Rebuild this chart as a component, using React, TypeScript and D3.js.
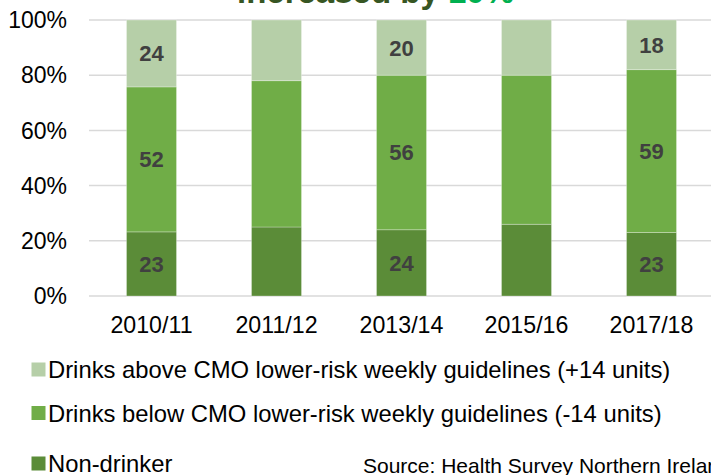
import React from "react";
import * as d3 from "d3";

const years = ["2010/11", "2011/12", "2013/14", "2015/16", "2017/18"];
const nonDrinker = [23, 25, 24, 26, 23];
const belowGuidelines = [52, 53, 56, 54, 59];
const aboveGuidelines = [24, 22, 20, 20, 18];
const labelledYears = ["2010/11", "2013/14", "2017/18"];
const yTicks = [0, 0.2, 0.4, 0.6, 0.8, 1];
const seriesKeys = ["non", "below", "above"];
const seriesColors = ["#5b8c38", "#70ad47", "#b6cfa8"];
const legendLabels = [
  "Drinks above CMO lower-risk weekly guidelines (+14 units)",
  "Drinks below CMO lower-risk weekly guidelines (-14 units)",
  "Non-drinker",
];
const legendColors = ["#b6cfa8", "#70ad47", "#5b8c38"];

const W = 711;
const H = 475;
const FONT = "'Liberation Sans', Arial, sans-serif";

export default function App() {
  const rows = years.map((y, i) => ({
    year: y,
    non: nonDrinker[i],
    below: belowGuidelines[i],
    above: aboveGuidelines[i],
  }));
  const stack = d3.stack<any>().keys(seriesKeys).offset(d3.stackOffsetExpand);
  const series = stack(rows);

  const x = d3.scaleBand().domain(years).range([89, 714]).paddingInner(0.6).paddingOuter(0.3);
  const y = d3.scaleLinear().domain([0, 1]).range([296, 20]);

  return (
    <svg width={W} height={H} style={{ position: "absolute", left: 0, top: 0, background: "#fff" }} fontFamily={FONT}>
      {/* title, cut off at the top edge as in the reference */}
      <text x={237} y={3} fontSize={33} fontWeight="bold" fill="#375623">
        increased by <tspan fill="#00b050">10%</tspan>
      </text>
      {yTicks.map((t) => (
        <line key={t} x1={89} x2={W} y1={y(t)} y2={y(t)} stroke="#d9d9d9" strokeWidth={1.5} />
      ))}
      {yTicks.map((t) => (
        <text key={"l" + t} x={67} y={y(t)} dy="0.36em" textAnchor="end" fontSize={23} fill="#000">
          {d3.format(".0%")(t)}
        </text>
      ))}
      {series.map((s, si) => (
        <g key={s.key} fill={seriesColors[si]}>
          {s.map((d: any, i: number) => (
            <rect
              key={i}
              x={x(years[i])}
              width={x.bandwidth()}
              y={y(d[1])}
              height={y(d[0]) - y(d[1])}
              stroke="#ffffff"
              strokeOpacity={0.35}
              strokeWidth={0.8}
            />
          ))}
        </g>
      ))}
      {series.map((s, si) =>
        s.map((d: any, i: number) =>
          labelledYears.includes(years[i]) ? (
            <text
              key={s.key + i}
              x={(x(years[i]) as number) + x.bandwidth() / 2}
              y={(y(d[0]) + y(d[1])) / 2}
              dy="0.36em"
              textAnchor="middle"
              fontSize={22}
              fontWeight="bold"
              fill="#404040"
            >
              {(d.data as any)[s.key]}
            </text>
          ) : null
        )
      )}
      {years.map((yr) => (
        <text
          key={yr}
          x={(x(yr) as number) + x.bandwidth() / 2}
          y={333}
          textAnchor="middle"
          fontSize={23.2}
          fill="#000"
        >
          {yr}
        </text>
      ))}
      {legendLabels.map((lab, i) => {
        const cy = [369.5, 413, 463.5][i];
        return (
          <g key={lab}>
            <rect x={31.5} y={cy - 7} width={14} height={14} fill={legendColors[i]} />
            <text x={48} y={cy} dy="0.36em" fontSize={23.8} fill="#000">
              {lab}
            </text>
          </g>
        );
      })}
      <text x={363} y={473} fontSize={21} fill="#000">
        Source: Health Survey Northern Ireland
      </text>
    </svg>
  );
}
